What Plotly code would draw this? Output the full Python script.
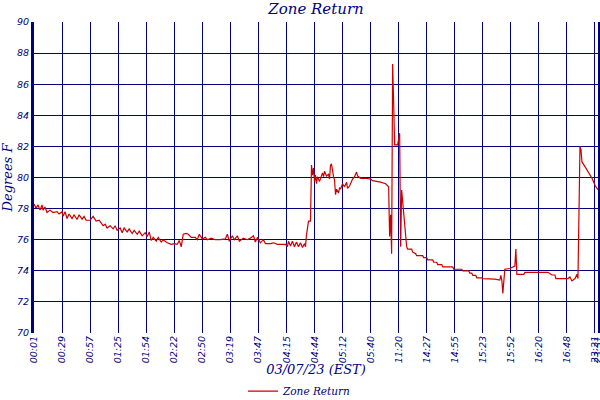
import plotly.graph_objects as go

idx = [0, 2, 4, 6, 8, 9, 11, 13, 16, 19, 23, 25, 28, 29, 31, 33, 35, 38, 40, 43,
       45, 48, 50, 52, 56, 59, 62, 65, 69, 71, 73, 76, 79, 81, 83, 86, 88, 90, 93, 95,
       98, 100, 103, 105, 108, 111, 113, 115, 117, 119, 122, 124, 127, 129, 133, 137, 140, 143, 145, 147,
       149, 152, 154, 157, 161, 163, 165, 168, 171, 173, 177, 181, 186, 191, 193, 195, 198, 200, 203, 205,
       209, 213, 216, 219, 221, 223, 226, 229, 231, 236, 239, 243, 251, 253, 254, 256, 258, 260, 262, 264,
       266, 268, 270, 271, 272, 273, 274, 276, 277, 278, 279, 280, 281, 282, 283, 285, 286, 288, 289, 290,
       292, 294, 295, 296, 297, 298, 299, 300, 301, 302, 304, 305, 306, 308, 310, 312, 313, 315, 317, 318,
       320, 322, 323, 326, 331, 336, 338, 344, 346, 351, 354, 355, 356, 357, 358, 359, 360, 363, 364, 365,
       366, 367, 372, 373, 377, 378, 381, 382, 388, 389, 392, 393, 398, 399, 402, 403, 407, 408, 418, 419,
       427, 428, 434, 435, 437, 438, 441, 442, 447, 448, 460, 465, 466, 467, 468, 469, 470, 475, 478, 480,
       481, 482, 489, 490, 513, 517, 520, 521, 533, 535, 537, 540, 542, 543, 544, 545, 546, 547, 550, 553,
       557, 560, 563]
temp = [78.3, 78.03, 78.24, 77.9, 78.24, 77.9, 78.1, 77.75, 77.9, 77.75, 77.8, 77.65, 77.8, 77.5, 77.8, 77.36, 77.65, 77.36, 77.6, 77.3,
        77.6, 77.32, 77.5, 77.25, 77.25, 77.5, 77.2, 77.25, 76.9, 77.0, 76.75, 76.9, 76.7, 76.9, 76.6, 76.75, 76.45, 76.75, 76.5, 76.7,
        76.4, 76.6, 76.35, 76.55, 76.25, 76.45, 76.2, 76.5, 75.95, 76.15, 75.9, 76.15, 75.85, 76.0, 75.8, 75.7, 75.75, 75.7, 75.95, 75.55,
        76.35, 76.4, 76.35, 76.15, 76.15, 76.0, 76.35, 76.05, 76.15, 76.0, 76.1, 76.0, 76.0, 76.05, 76.35, 75.9, 76.25, 76.0, 76.25, 75.9,
        76.1, 76.0, 76.1, 76.25, 75.85, 76.15, 75.8, 76.0, 75.75, 75.75, 75.8, 75.7, 75.7, 75.55, 75.9, 75.6, 75.9, 75.55, 75.85, 75.55,
        75.8, 75.5, 75.75, 75.55, 76.3, 76.75, 77.2, 77.2, 80.8, 80.15, 80.6, 79.75, 80.15, 79.6, 80.05, 79.75, 79.95, 80.3, 80.05, 80.4,
        80.1, 80.2, 79.9, 80.8, 80.85, 80.3, 80.05, 79.85, 78.9, 79.25, 79.0, 79.35, 79.25, 79.6, 79.4, 79.7, 79.3, 79.45, 79.75, 79.9,
        80.05, 80.35, 80.1, 79.95, 79.95, 79.9, 79.8, 79.75, 79.7, 79.6, 79.4, 76.2, 77.6, 75.1, 87.3, 84.8, 82.1, 82.1, 82.4, 82.85,
        75.55, 79.2, 75.55, 75.4, 75.4, 75.2, 75.1, 74.97, 74.97, 74.85, 74.85, 74.7, 74.7, 74.55, 74.55, 74.4, 74.4, 74.25, 74.25, 74.1,
        74.1, 74.0, 74.0, 73.85, 73.85, 73.7, 73.7, 73.55, 73.55, 73.5, 73.47, 73.4, 73.7, 73.4, 72.55, 73.3, 74.1, 74.15, 74.25, 74.3,
        75.4, 73.77, 73.77, 73.9, 73.9, 73.73, 73.73, 73.5, 73.5, 73.6, 73.35, 73.5, 73.77, 73.5, 77.7, 82.0, 81.77, 81.0, 80.7, 80.4,
        79.95, 79.5, 79.2]

tick_pos = [0, 28, 56, 84, 112, 140, 168, 196, 224, 252, 280, 308, 336, 364, 392, 420, 448, 476, 504, 532, 560, 563]
tick_txt = ["00:01", "00:29", "00:57", "01:25", "01:54", "02:22", "02:50", "03:19", "03:47", "04:15", "04:44",
            "05:12", "05:40", "11:20", "14:27", "14:55", "15:23", "15:52", "16:20", "16:48", "23:21", "23:31"]

NAVY = "#000080"
serif = dict(family="DejaVu Serif", color=NAVY, style="italic")
sans = dict(family="DejaVu Sans", color=NAVY, style="italic", size=9.5)

fig = go.Figure()
fig.add_trace(go.Scatter(
    x=idx, y=temp, mode="lines", name="Zone Return",
    line=dict(color="#CC0000", width=1.2)
))

fig.update_layout(
    width=600, height=400,
    margin=dict(l=34, r=2, t=22, b=67, autoexpand=False),
    plot_bgcolor="white", paper_bgcolor="white",
    title=dict(text="Zone Return", x=0.5, xref="paper", xanchor="center",
               y=0.978, yref="container", yanchor="middle", font=dict(serif, size=15)),
    showlegend=True,
    legend=dict(orientation="h", xref="container", x=0.5, xanchor="center",
                yref="container", y=0.022, yanchor="middle",
                font=dict(serif, size=10.5), itemwidth=30),
)

fig.update_xaxes(
    range=[0, 563], tickmode="array", tickvals=tick_pos, ticktext=tick_txt,
    tickangle=-90, tickfont=sans, ticks="", automargin=False, ticklabeloverflow="allow",
    showgrid=True, gridcolor=NAVY, gridwidth=1.4, zeroline=False, showline=False,
    title=dict(text="03/07/23 (EST)", font=dict(serif, size=13), standoff=6),
)
fig.update_yaxes(
    range=[70, 90], dtick=2, tickfont=sans, ticks="", automargin=False,
    showgrid=True, gridcolor=NAVY, gridwidth=1.4, zeroline=False,
    showline=True, linecolor=NAVY, linewidth=3, mirror=True,
    title=dict(text="Degrees F", font=dict(serif, size=13), standoff=2),
)

# drop the browser's default page margin so the 600x400 figure fills the window
fix_page = ("document.body.style.margin='0px';"
            "document.body.style.overflow='hidden';"
            "Plotly.relayout('{plot_id}', {width: 600, height: 400});")

fig.write_html("out.html", post_script=fix_page, config={"displayModeBar": False})
